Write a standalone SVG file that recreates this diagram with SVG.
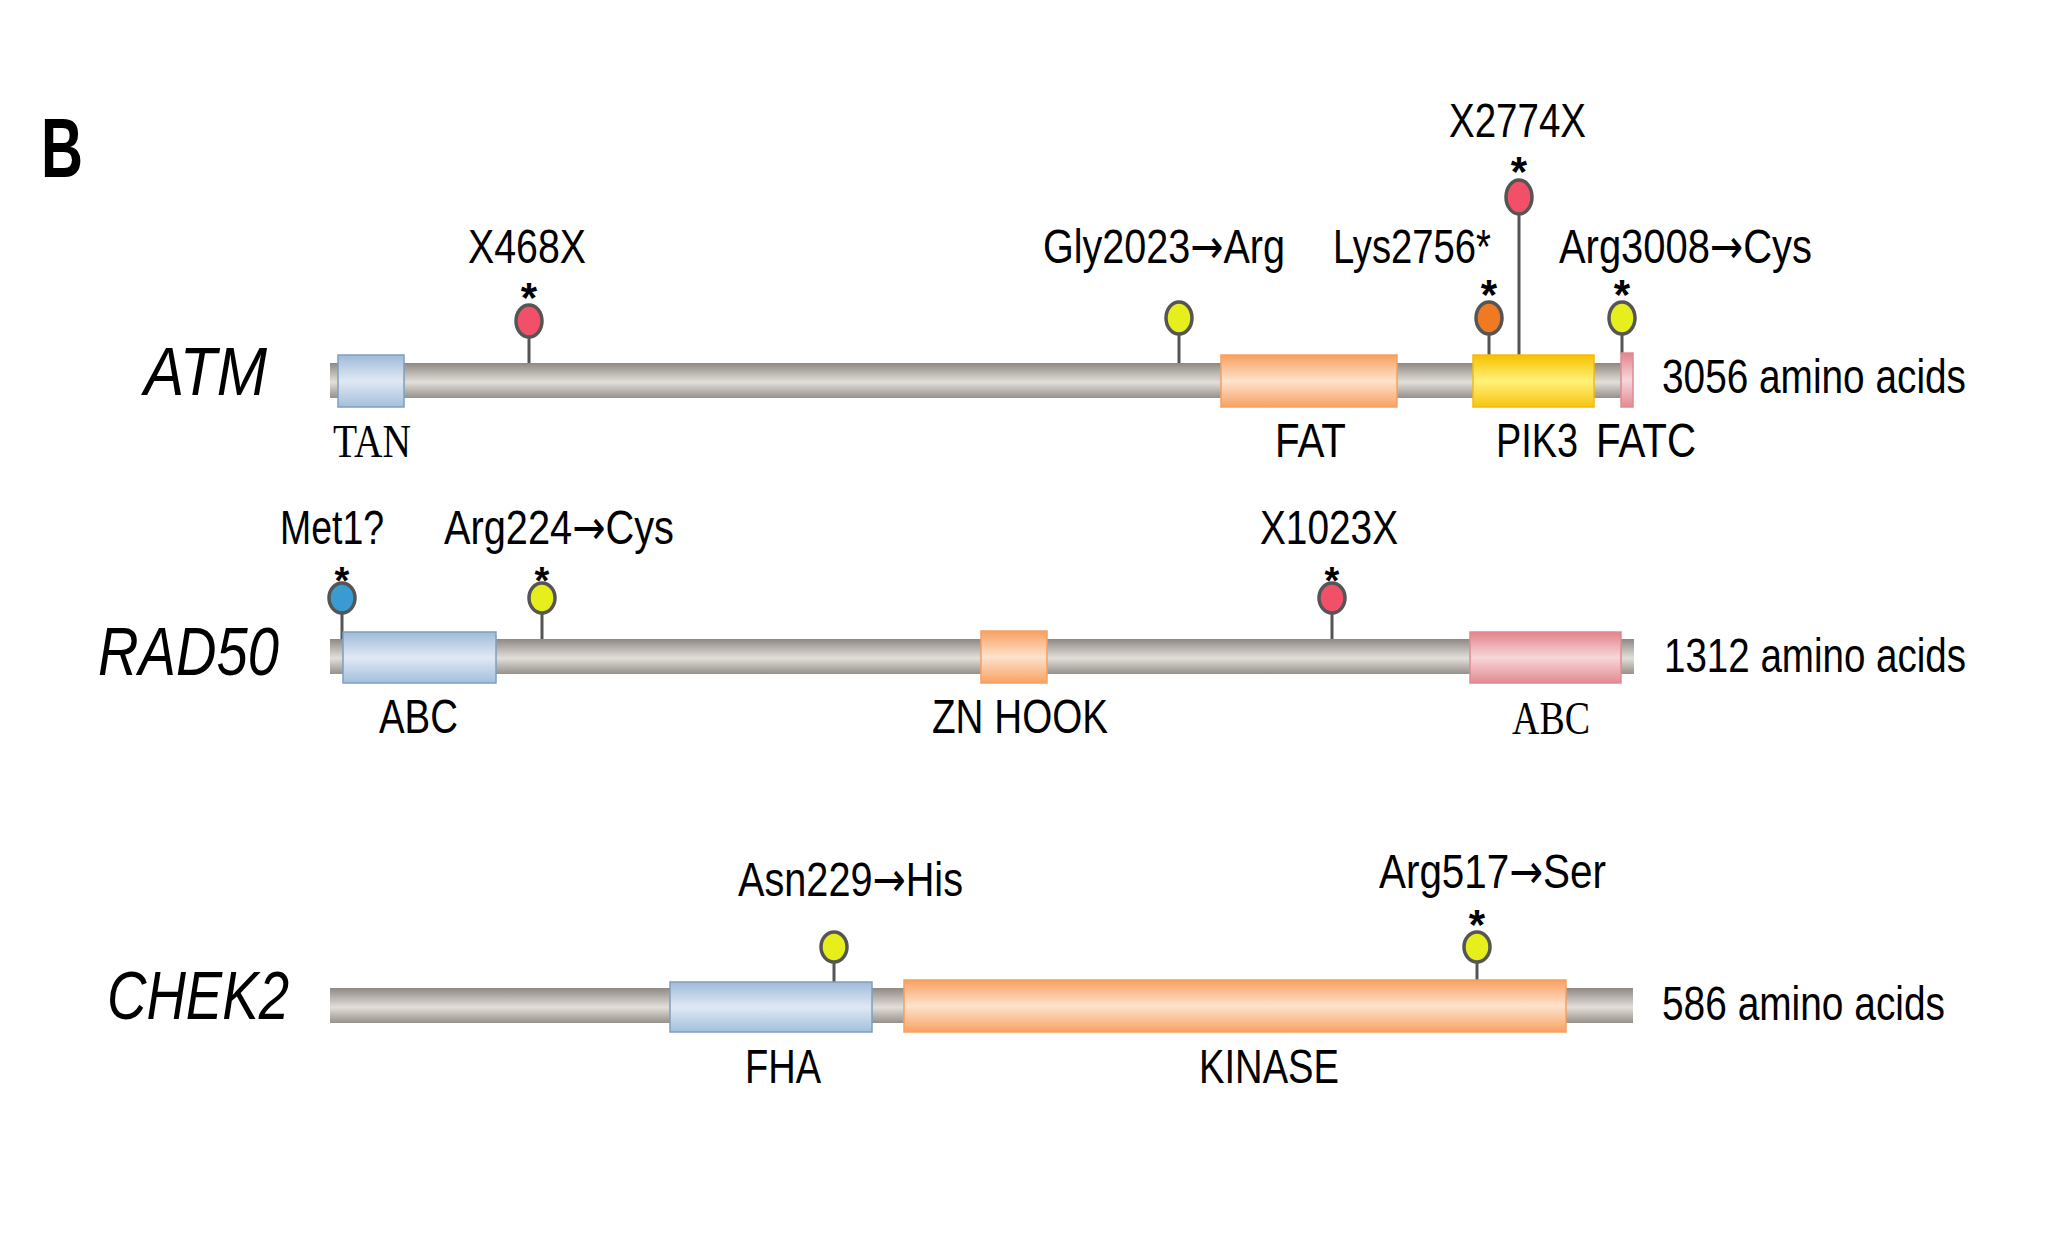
<svg xmlns="http://www.w3.org/2000/svg" width="2059" height="1251" viewBox="0 0 2059 1251">
<defs>
<linearGradient id="gBar" x1="0" y1="0" x2="0" y2="1">
<stop offset="0" stop-color="#8e8984"/><stop offset="0.25" stop-color="#b5b0aa"/><stop offset="0.55" stop-color="#e2dfda"/><stop offset="0.8" stop-color="#b7b2ac"/><stop offset="1" stop-color="#96918b"/>
</linearGradient>
<linearGradient id="gBlue" x1="0" y1="0" x2="0" y2="1">
<stop offset="0" stop-color="#9fbbd9"/><stop offset="0.5" stop-color="#dfe9f4"/><stop offset="1" stop-color="#a3bfdc"/>
</linearGradient>
<linearGradient id="gOrange" x1="0" y1="0" x2="0" y2="1">
<stop offset="0" stop-color="#f8a060"/><stop offset="0.5" stop-color="#fde2cc"/><stop offset="1" stop-color="#f8a262"/>
</linearGradient>
<linearGradient id="gYellow" x1="0" y1="0" x2="0" y2="1">
<stop offset="0" stop-color="#f7c000"/><stop offset="0.5" stop-color="#fff27a"/><stop offset="1" stop-color="#f8c410"/>
</linearGradient>
<linearGradient id="gPink" x1="0" y1="0" x2="0" y2="1">
<stop offset="0" stop-color="#e2848c"/><stop offset="0.5" stop-color="#f7d6d9"/><stop offset="1" stop-color="#e38a92"/>
</linearGradient>
<style>
.lbl{font-family:"Liberation Sans",Arial,sans-serif;font-size:48px;fill:#000}
.ser{font-family:"Liberation Serif","Times New Roman",serif;font-size:46px;fill:#000}
.gene{font-family:"Liberation Sans",Arial,sans-serif;font-size:68px;font-style:italic;fill:#000}
.ast{font-family:"Liberation Sans",Arial,sans-serif;font-size:42px;font-weight:bold;fill:#000;text-anchor:middle}
.arr{font-family:"DejaVu Sans",sans-serif}
.bar{fill:url(#gBar)}
.blue{fill:url(#gBlue);stroke:#7f9fc2;stroke-width:1.5}
.orange{fill:url(#gOrange);stroke:#f5a060;stroke-width:1.5}
.yellow{fill:url(#gYellow);stroke:#f2bc10;stroke-width:1.5}
.pink{fill:url(#gPink);stroke:#df8a92;stroke-width:1.5}
.stem{stroke:#555;stroke-width:3}
.mk{stroke:#555;stroke-width:3.5}
.red{fill:#f25068}
.ylw{fill:#e6ef1c}
.org{fill:#ef7a22}
.blu{fill:#3a9ad2}
</style>
</defs>
<rect width="2059" height="1251" fill="#fff"/>
<text x="41" y="177" font-family="Liberation Sans,Arial,sans-serif" font-size="84" font-weight="bold" textLength="42" lengthAdjust="spacingAndGlyphs">B</text>

<!-- connectors (stems) -->
<g id="connectors">
<line class="stem" x1="529" y1="336" x2="529" y2="364"/>
<line class="stem" x1="1179" y1="334" x2="1179" y2="364"/>
<line class="stem" x1="1489" y1="334" x2="1489" y2="356"/>
<line class="stem" x1="1519" y1="214" x2="1519" y2="356"/>
<line class="stem" x1="1622" y1="334" x2="1622" y2="354"/>
<line class="stem" x1="342" y1="612" x2="342" y2="640"/>
<line class="stem" x1="542" y1="612" x2="542" y2="640"/>
<line class="stem" x1="1332" y1="612" x2="1332" y2="640"/>
<line class="stem" x1="834" y1="961" x2="834" y2="983"/>
<line class="stem" x1="1477" y1="961" x2="1477" y2="981"/>
</g>

<!-- ATM -->
<g id="atm">
<text class="gene" x="144" y="395" textLength="123" lengthAdjust="spacingAndGlyphs">ATM</text>
<rect class="bar" x="330" y="363" width="1303" height="35"/>
<text class="lbl" x="1662" y="393" textLength="304" lengthAdjust="spacingAndGlyphs">3056 amino acids</text>
</g>
<g id="atm-tan"><rect class="blue" x="338" y="355" width="66" height="52"/><text class="ser" x="333" y="457" textLength="78" lengthAdjust="spacingAndGlyphs">TAN</text></g>
<g id="atm-fat"><rect class="orange" x="1221" y="355" width="176" height="52"/><text class="lbl" x="1275" y="457" textLength="71" lengthAdjust="spacingAndGlyphs">FAT</text></g>
<g id="atm-pik3"><rect class="yellow" x="1473" y="355" width="121" height="52"/><text class="lbl" x="1496" y="457" textLength="82" lengthAdjust="spacingAndGlyphs">PIK3</text></g>
<g id="atm-fatc"><rect class="pink" x="1621" y="353" width="12" height="54"/><text class="lbl" x="1596" y="457" textLength="100" lengthAdjust="spacingAndGlyphs">FATC</text></g>
<g id="atm-x468x"><text class="lbl" x="468" y="263" textLength="118" lengthAdjust="spacingAndGlyphs">X468X</text><text class="ast" x="529" y="312">*</text><ellipse class="mk red" cx="529" cy="321" rx="13" ry="16"/></g>
<g id="atm-gly2023"><text class="lbl" x="1043" y="263" textLength="242" lengthAdjust="spacingAndGlyphs">Gly2023<tspan class="arr">→</tspan>Arg</text><ellipse class="mk ylw" cx="1179" cy="318" rx="13" ry="16"/></g>
<g id="atm-lys2756"><text class="lbl" x="1333" y="263" textLength="158" lengthAdjust="spacingAndGlyphs">Lys2756*</text><text class="ast" x="1489" y="309">*</text><ellipse class="mk org" cx="1489" cy="318" rx="13" ry="16"/></g>
<g id="atm-x2774x"><text class="lbl" x="1449" y="137" textLength="137" lengthAdjust="spacingAndGlyphs">X2774X</text><text class="ast" x="1519" y="186">*</text><ellipse class="mk red" cx="1519" cy="197" rx="13" ry="17"/></g>
<g id="atm-arg3008"><text class="lbl" x="1559" y="263" textLength="253" lengthAdjust="spacingAndGlyphs">Arg3008<tspan class="arr">→</tspan>Cys</text><text class="ast" x="1622" y="309">*</text><ellipse class="mk ylw" cx="1622" cy="318" rx="13" ry="16"/></g>

<!-- RAD50 -->
<g id="rad50">
<text class="gene" x="98" y="675" textLength="181" lengthAdjust="spacingAndGlyphs">RAD50</text>
<rect class="bar" x="330" y="639" width="1304" height="35"/>
<text class="lbl" x="1664" y="672" textLength="302" lengthAdjust="spacingAndGlyphs">1312 amino acids</text>
</g>
<g id="rad50-abc1"><rect class="blue" x="343" y="632" width="153" height="51"/><text class="lbl" x="379" y="733" textLength="79" lengthAdjust="spacingAndGlyphs">ABC</text></g>
<g id="rad50-znhook"><rect class="orange" x="981" y="631" width="66" height="52"/><text class="lbl" x="932" y="733" textLength="176" lengthAdjust="spacingAndGlyphs">ZN HOOK</text></g>
<g id="rad50-abc2"><rect class="pink" x="1470" y="632" width="151" height="51"/><text class="ser" x="1512" y="734" textLength="78" lengthAdjust="spacingAndGlyphs">ABC</text></g>
<g id="rad50-met1"><text class="lbl" x="280" y="544" textLength="104" lengthAdjust="spacingAndGlyphs">Met1?</text><text class="ast" x="342" y="594" style="font-size:38px">*</text><ellipse class="mk blu" cx="342" cy="598" rx="13" ry="15"/></g>
<g id="rad50-arg224"><text class="lbl" x="444" y="544" textLength="230" lengthAdjust="spacingAndGlyphs">Arg224<tspan class="arr">→</tspan>Cys</text><text class="ast" x="542" y="594" style="font-size:38px">*</text><ellipse class="mk ylw" cx="542" cy="598" rx="13" ry="15"/></g>
<g id="rad50-x1023x"><text class="lbl" x="1260" y="544" textLength="138" lengthAdjust="spacingAndGlyphs">X1023X</text><text class="ast" x="1332" y="594" style="font-size:38px">*</text><ellipse class="mk red" cx="1332" cy="598" rx="13" ry="15"/></g>

<!-- CHEK2 -->
<g id="chek2">
<text class="gene" x="107" y="1019" textLength="182" lengthAdjust="spacingAndGlyphs">CHEK2</text>
<rect class="bar" x="330" y="988" width="1303" height="35"/>
<text class="lbl" x="1662" y="1020" textLength="283" lengthAdjust="spacingAndGlyphs">586 amino acids</text>
</g>
<g id="chek2-fha"><rect class="blue" x="670" y="982" width="202" height="50"/><text class="lbl" x="745" y="1083" textLength="76" lengthAdjust="spacingAndGlyphs">FHA</text></g>
<g id="chek2-kinase"><rect class="orange" x="904" y="980" width="662" height="52"/><text class="lbl" x="1199" y="1083" textLength="140" lengthAdjust="spacingAndGlyphs">KINASE</text></g>
<g id="chek2-asn229"><text class="lbl" x="738" y="896" textLength="225" lengthAdjust="spacingAndGlyphs">Asn229<tspan class="arr">→</tspan>His</text><ellipse class="mk ylw" cx="834" cy="947" rx="13" ry="15"/></g>
<g id="chek2-arg517"><text class="lbl" x="1379" y="888" textLength="227" lengthAdjust="spacingAndGlyphs">Arg517<tspan class="arr">→</tspan>Ser</text><text class="ast" x="1477" y="939">*</text><ellipse class="mk ylw" cx="1477" cy="947" rx="13" ry="15"/></g>
</svg>
